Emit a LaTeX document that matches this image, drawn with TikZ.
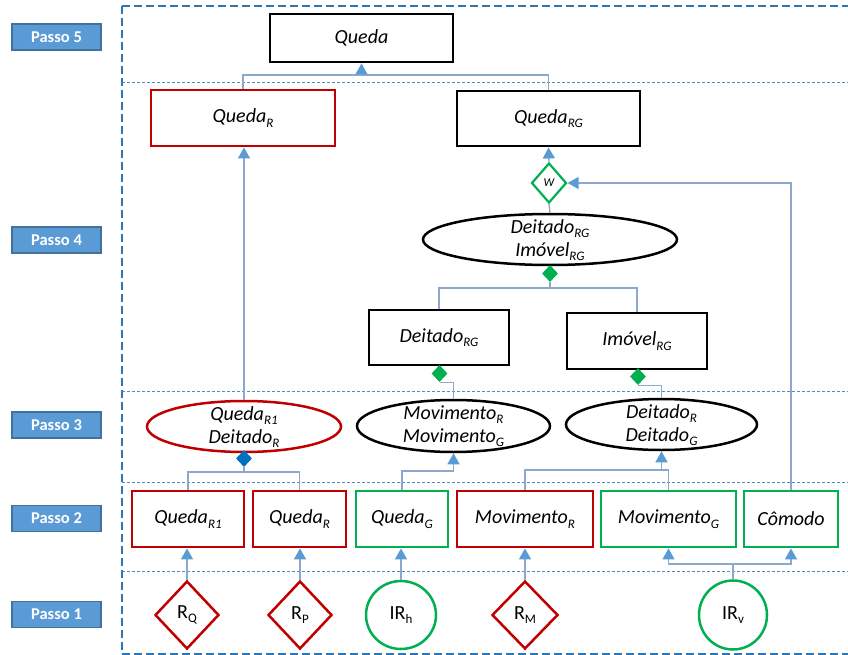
\documentclass[tikz,border=0pt]{standalone}
\usepackage{fontspec}
\setmainfont{Carlito}
\usetikzlibrary{shapes.geometric,arrows.meta,calc}
\definecolor{conncol}{RGB}{140,168,205}
\definecolor{tipcol}{RGB}{91,155,213}
\definecolor{framecol}{RGB}{46,117,182}
\definecolor{redcol}{RGB}{192,0,0}
\definecolor{greencol}{RGB}{0,176,80}
\definecolor{bluecol}{RGB}{0,112,192}
\definecolor{passofill}{RGB}{91,155,213}
\definecolor{passodraw}{RGB}{65,113,156}
\newcommand{\sbs}[1]{\raisebox{-0.45ex}{\fontsize{13}{13}\selectfont #1}}
\begin{document}
\begin{tikzpicture}[x=1pt,y=-1pt,
  lbl/.style={font=\fontsize{20}{23}\selectfont\itshape, align=center, inner sep=0pt},
  upl/.style={font=\fontsize{20}{23}\selectfont, align=center, inner sep=0pt},
  boxb/.style={draw=black, line width=2.9pt, rectangle, inner sep=0pt, lbl},
  boxr/.style={boxb, draw=redcol},
  boxg/.style={boxb, draw=greencol},
  ellb/.style={draw=black, line width=2.5pt, ellipse, inner sep=0pt},
  ellr/.style={ellb, draw=redcol},
  dmd/.style={diamond, draw=redcol, line width=2.5pt, inner sep=0pt, upl},
  circg/.style={ellipse, draw=greencol, line width=2.5pt, inner sep=0pt, upl},
  smalldmd/.style={diamond, inner sep=0pt, minimum width=16pt, minimum height=17pt},
  conn/.style={draw=conncol, line width=1.4pt},
  arr/.style={conn, -{Triangle[width=12pt,length=11pt,color=tipcol]}},
  passo/.style={rectangle, fill=passofill, draw=passodraw, line width=1.2pt,
    minimum width=89pt, minimum height=26pt, inner sep=0pt, text=white,
    font=\fontsize{16.5}{16.5}\selectfont\bfseries},
  sep/.style={draw=framecol!85, line width=0.9pt, dash pattern=on 3pt off 2pt},
  frame/.style={draw=framecol, line width=2.2pt, dash pattern=on 8pt off 4pt}
]
\useasboundingbox (0,0) rectangle (848,655);

% frame and separators
\draw[frame] (122,6) -- (848,6);
\draw[frame] (122,6) -- (122,654);
\draw[frame] (122,654) -- (848,654);
\draw[sep] (122,82) -- (848,82);
\draw[sep] (122,391) -- (848,391);
\draw[sep] (122,482) -- (848,482);
\draw[sep] (122,571) -- (848,571);

% passo labels
\node[passo] (p5) at (56.5,37) {Passo 5};
\node[passo] (p4) at (56.5,240) {Passo 4};
\node[passo] (p3) at (56.5,425) {Passo 3};
\node[passo] (p2) at (56.5,518.5) {Passo 2};
\node[passo] (p1) at (56.5,614.5) {Passo 1};

% step 5 and 4 boxes
\node[boxb, minimum width=183pt, minimum height=48pt] (queda) at (361.5,38) {Queda};
\node[boxr, minimum width=184pt, minimum height=56pt] (qr) at (243,118) {Queda\sbs{R}};
\node[boxb, minimum width=183pt, minimum height=55pt] (qrg) at (548.5,118.5) {Queda\sbs{RG}};
\node[diamond, draw=greencol, line width=2.2pt, inner sep=0pt, minimum width=35pt, minimum height=40pt,
  font=\fontsize{12}{12}\selectfont\itshape] (w) at (549,183) {W};
\node[ellb, minimum width=254pt, minimum height=51pt] (edi) at (550,239.5) {};
\node[lbl] (editxt) at (550,240) {Deitado\sbs{RG}\\Imóvel\sbs{RG}};
\node[smalldmd, fill=greencol] (d1) at (550,273.5) {};
\node[boxb, minimum width=140pt, minimum height=55pt] (drg) at (439,337.5) {Deitado\sbs{RG}};
\node[boxb, minimum width=140pt, minimum height=56pt] (img) at (637,341) {Imóvel\sbs{RG}};
\node[smalldmd, fill=greencol] (d2) at (439.5,373.5) {};
\node[smalldmd, fill=greencol] (d3) at (638,376.5) {};

% step 3 ellipses
\node[ellr, minimum width=194pt, minimum height=51pt] (e1) at (244,426.5) {};
\node[lbl] (e1txt) at (244,427) {Queda\sbs{R1}\\Deitado\sbs{R}};
\node[ellb, minimum width=193pt, minimum height=52pt] (e2) at (453.5,426) {};
\node[lbl] (e2txt) at (453.5,426.5) {Movimento\sbs{R}\\Movimento\sbs{G}};
\node[ellb, minimum width=191pt, minimum height=51pt] (e3) at (661.5,424.5) {};
\node[lbl] (e3txt) at (661.5,425) {Deitado\sbs{R}\\Deitado\sbs{G}};
\node[smalldmd, fill=bluecol] (d4) at (244,458.5) {};

% step 2 boxes
\node[boxr, minimum width=112pt, minimum height=56pt] (qr1b) at (188,519) {Queda\sbs{R1}};
\node[boxr, minimum width=93pt, minimum height=56pt] (qr2b) at (299.5,519) {Queda\sbs{R}};
\node[boxg, minimum width=92pt, minimum height=56pt] (qgb) at (402,519) {Queda\sbs{G}};
\node[boxr, minimum width=136pt, minimum height=56pt] (mrb) at (525,519) {Movimento\sbs{R}};
\node[boxg, minimum width=135pt, minimum height=56pt] (mgb) at (668.5,519) {Movimento\sbs{G}};
\node[boxg, minimum width=94pt, minimum height=56pt] (comb) at (791,519) {Cômodo};

% step 1 sensors
\node[dmd, minimum width=64pt, minimum height=68pt] (rq) at (187,615) {R\sbs{Q}};
\node[dmd, minimum width=64pt, minimum height=68pt] (rp) at (300,615) {R\sbs{P}};
\node[circg, minimum width=70pt, minimum height=68pt] (irh) at (401,615) {IR\sbs{h}};
\node[dmd, minimum width=66pt, minimum height=68pt] (rm) at (525,615) {R\sbs{M}};
\node[circg, minimum width=68pt, minimum height=69pt] (irv) at (733,615) {IR\sbs{v}};

% junction coordinates
\coordinate (j1) at (361.5,75);
\coordinate (j2) at (550,288);
\coordinate (j4) at (244,472);
\coordinate (j5) at (453.5,471);
\coordinate (j6) at (661.5,470);
\coordinate (j7) at (733,564);

% connectors
\draw[conn] (qr.north) |- (j1) -| (qrg.north);
\draw[arr] (j1) -- (queda.south);
\draw[arr] (e1.north) -- (e1.north |- qr.south);
\draw[arr] (w.north) -- (qrg.south);
\draw[arr] (comb.north) |- (w.east);
\draw[conn] (edi.north) -- (w.south);
\draw[conn] (d1.south) -- (j2);
\draw[conn] (drg.north) |- (j2) -| (img.north);
\draw[conn] (d2.south) -| (e2.north);
\draw[conn] (d3.south) -| (e3.north);
\draw[conn] (d4.south) -- (j4);
\draw[conn] (qr1b.north) |- (j4) -| (qr2b.north);
\draw[arr] (qgb.north) |- (j5) -- (e2.south);
\draw[conn] (mrb.north) |- (j6) -| (mgb.north);
\draw[arr] (j6) -- (e3.south);
\draw[arr] (rq.north) -- (rq.north |- qr1b.south);
\draw[arr] (rp.north) -- (rp.north |- qr2b.south);
\draw[arr] (irh.north) -- (irh.north |- qgb.south);
\draw[arr] (rm.north) -- (mrb.south);
\draw[conn] (irv.north) -- (j7);
\draw[arr] (j7) -| (mgb.south);
\draw[arr] (j7) -| (comb.south);
\end{tikzpicture}
\end{document}
